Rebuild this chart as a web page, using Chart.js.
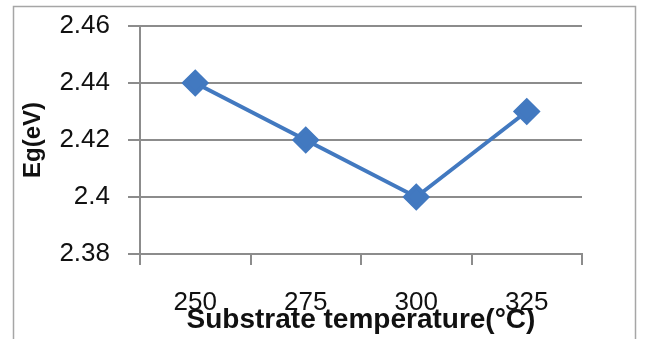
<!DOCTYPE html>
<html>
<head>
<meta charset="utf-8">
<script src="https://cdn.jsdelivr.net/npm/chart.js@4/dist/chart.umd.min.js"></script>
<style>
  html, body { margin: 0; padding: 0; background: #fff; }
  #wrap { width: 646px; height: 339px; position: relative; }
</style>
</head>
<body>
<div id="wrap"><canvas id="c" width="646" height="339"></canvas></div>
<script>
// Band gap vs. substrate temperature
const temperatures = ['250', '275', '300', '325'];
const bandGap = [2.44, 2.42, 2.40, 2.43];
const yTicks = [2.38, 2.40, 2.42, 2.44, 2.46];

const xTitle = 'Substrate temperature(°C)';
const yTitle = 'Eg(eV)';

// Thin frame around the whole figure
const framePlugin = {
  id: 'frame',
  beforeDraw(chart) {
    const ctx = chart.ctx;
    ctx.save();
    ctx.fillStyle = '#ffffff';
    ctx.fillRect(0, 0, chart.width, chart.height);
    ctx.strokeStyle = '#a6a6a6';
    ctx.lineWidth = 1.5;
    ctx.strokeRect(13.5, 6.5, chart.width - 24, chart.height + 10);
    ctx.restore();
  }
};

new Chart(document.getElementById('c'), {
  type: 'line',
  data: {
    labels: temperatures,
    datasets: [{
      data: bandGap,
      borderColor: '#4279C0',
      backgroundColor: '#4279C0',
      borderWidth: 4,
      pointStyle: 'rectRot',
      pointRadius: 11,
      pointHoverRadius: 11,
      tension: 0
    }]
  },
  options: {
    responsive: false,
    animation: false,
    events: [],
    layout: { padding: { top: 26, right: 64, left: 0, bottom: 0 } },
    plugins: { legend: { display: false }, tooltip: { enabled: false } },
    scales: {
      x: {
        type: 'category',
        offset: true,
        grid: { offset: true, drawOnChartArea: false, drawTicks: true, tickLength: 11, color: '#8c8c8c', lineWidth: 2 },
        border: { display: true, color: '#8c8c8c', width: 2 },
        ticks: { color: '#111', padding: 22, font: { family: 'Liberation Sans', size: 26 } },
        title: {
          display: true, text: xTitle, color: '#111',
          font: { family: 'Liberation Sans', size: 28, weight: 'bold' },
          padding: { top: 0, bottom: 2 }
        },
        afterFit(scale) {
          scale.height = 339 - 254;
          scale.paddingLeft = 0;
          scale.paddingRight = 0;
        }
      },
      y: {
        min: 2.38, max: 2.46,
        afterBuildTicks(scale) { scale.ticks = yTicks.map(v => ({ value: v })); },
        grid: { color: '#8c8c8c', lineWidth: 2, tickLength: 12 },
        border: { display: true, color: '#8c8c8c', width: 2 },
        ticks: {
          color: '#111', padding: 18,
          font: { family: 'Liberation Sans', size: 26 },
          callback: v => String(parseFloat(v.toFixed(2)))
        },
        title: {
          display: true, text: yTitle, color: '#111',
          font: { family: 'Liberation Sans', size: 24, weight: 'bold' },
          padding: { top: 19, bottom: 0 }
        },
        afterFit(scale) {
          scale.width = 140;
          scale.paddingTop = 0;
          scale.paddingBottom = 0;
        }
      }
    }
  },
  plugins: [framePlugin]
});
</script>
</body>
</html>
